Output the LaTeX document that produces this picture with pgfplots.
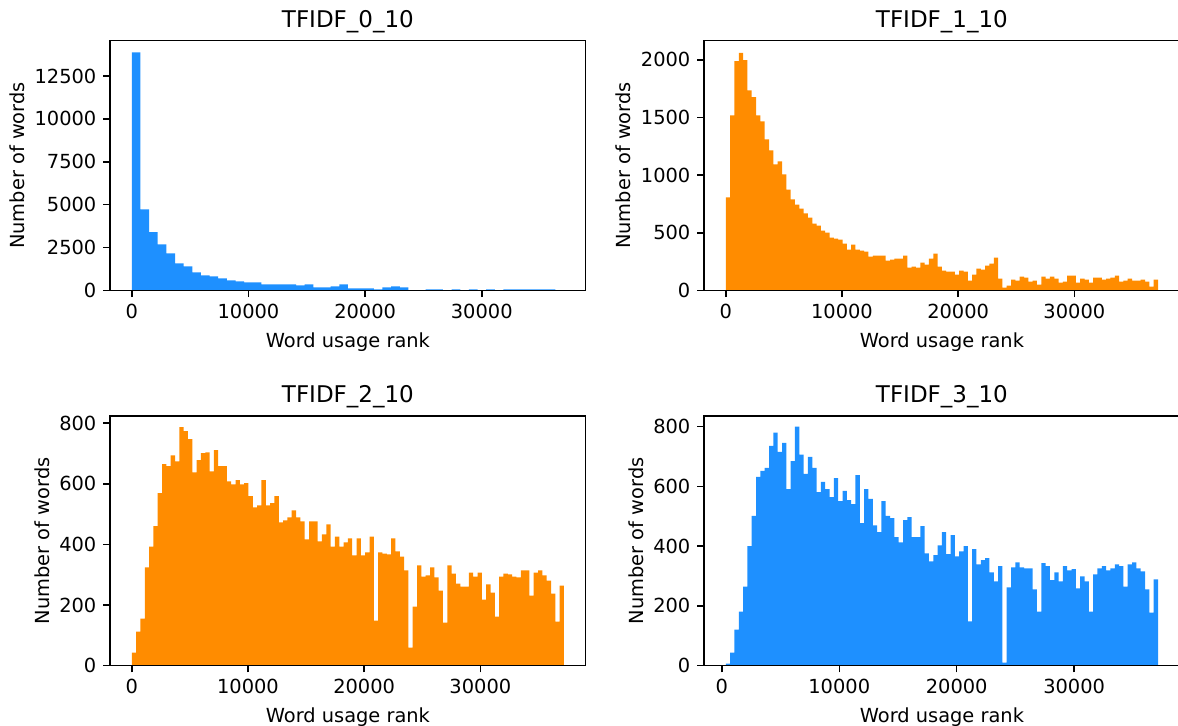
\documentclass[border=0pt]{standalone}
\usepackage{fontspec}
\setmainfont{DejaVu Sans}
\usepackage{pgfplots}
\pgfplotsset{compat=1.18}
\definecolor{dblue}{HTML}{1E90FF}
\definecolor{dorange}{HTML}{FF8C00}
\pgfplotsset{
  every axis title/.style={at={(0.5,1)}, anchor=base, yshift=6.6pt},
  hist/.style={
    scale only axis, width=237.7pt, height=124.9pt,
    anchor=south west,
    axis on top,
    scaled ticks=false,
    axis line style={line width=0.75pt, black},
    every tick/.style={line width=0.75pt, black},
    tick align=outside, tick pos=left,
    major tick length=3.4pt,
    ymin=0,
    xtick={0,10000,20000,30000}, xticklabels={0,10000,20000,30000},
    ticklabel style={font=\fontsize{9.7}{11}\selectfont},
    label style={font=\fontsize{9.7}{11}\selectfont},
    title style={font=\fontsize{11.5}{13}\selectfont},
    xlabel={Word usage rank}, ylabel={Number of words},
    ylabel style={yshift=-2pt},
  }
}
\begin{document}
\begin{tikzpicture}
\useasboundingbox (0,0) rectangle (589pt,363pt);
% top left
\begin{axis}[hist, at={(55.1pt,217.8pt)}, title={TFIDF\_0\_10},
  xmin=-1852, xmax=38902, ymax=14564,
  ytick={0,2500,5000,7500,10000,12500}, yticklabels={0,2500,5000,7500,10000,12500}]
\addplot[const plot, fill=dblue, draw=none] table {
x y
0 13870
741 4730
1482 3390
2223 2690
2964 2160
3705 1580
4446 1400
5187 1050
5928 880
6669 820
7410 700
8151 580
8892 530
9633 470
10374 470
11115 350
11856 350
12597 350
13338 350
14079 290
14820 350
15561 175
16302 175
17043 235
17784 350
18525 117
19266 117
20007 117
20748 60
21489 175
22230 235
22971 175
23712 10
24453 10
25194 60
25935 60
26676 10
27417 60
28158 10
28899 60
29640 10
30381 60
31122 10
31863 60
32604 60
33345 60
34086 60
34827 60
35568 60
36309 10
37050 10
} \closedcycle;
\end{axis}
% top right
\begin{axis}[hist, at={(352.1pt,217.8pt)}, title={TFIDF\_1\_10},
  xmin=-1860, xmax=39060, ymax=2167,
  ytick={0,500,1000,1500,2000}, yticklabels={0,500,1000,1500,2000}]
\addplot[const plot, fill=dorange, draw=none] table {
x y
0 806
372 1519
744 1989
1116 2061
1488 1997
1860 1736
2232 1676
2604 1519
2976 1467
3348 1310
3720 1215
4092 1093
4464 1119
4836 1006
5208 875
5580 789
5952 745
6324 710
6696 667
7068 632
7440 580
7812 562
8184 519
8556 502
8928 458
9300 449
9672 441
10044 406
10416 354
10788 397
11160 354
11532 345
11904 336
12276 293
12648 301
13020 301
13392 301
13764 258
14136 267
14508 275
14880 275
15252 301
15624 197
15996 206
16368 197
16740 241
17112 223
17484 275
17856 319
18228 206
18600 171
18972 162
19344 162
19716 136
20088 171
20460 162
20832 84
21204 136
21576 188
21948 180
22320 215
22692 232
23064 284
23436 101
23808 23
24180 41
24552 93
24924 84
25296 119
25668 110
26040 75
26412 84
26784 49
27156 119
27528 101
27900 119
28272 101
28644 67
29016 75
29388 128
29760 128
30132 67
30504 101
30876 93
31248 67
31620 110
31992 110
32364 93
32736 101
33108 110
33480 128
33852 75
34224 84
34596 101
34968 84
35340 84
35712 93
36084 75
36456 32
36828 93
37200 93
} \closedcycle;
\end{axis}
% bottom left
\begin{axis}[hist, at={(55.1pt,30.15pt)}, title={TFIDF\_2\_10},
  xmin=-1860, xmax=39060, ymax=824,
  ytick={0,200,400,600,800}, yticklabels={0,200,400,600,800}]
\addplot[const plot, fill=dorange, draw=none] table {
x y
0 43
372 112
744 155
1116 324
1488 393
1860 460
2232 569
2604 665
2976 658
3348 694
3720 674
4092 787
4464 774
4836 747
5208 638
5580 678
5952 701
6324 704
6696 641
7068 711
7440 658
7812 658
8184 608
8556 598
8928 612
9300 598
9672 602
10044 559
10416 522
10788 529
11160 612
11532 529
11904 536
12276 559
12648 473
13020 479
13392 489
13764 512
14136 489
14508 476
14880 417
15252 476
15624 476
15996 410
16368 433
16740 466
17112 393
17484 426
17856 393
18228 407
18600 420
18972 364
19344 420
19716 364
20088 374
20460 426
20832 149
21204 374
21576 370
21948 367
22320 420
22692 377
23064 360
23436 314
23808 60
24180 195
24552 331
24924 294
25296 298
25668 324
26040 291
26412 248
26784 142
27156 331
27528 304
27900 271
28272 261
28644 261
29016 307
29388 294
29760 307
30132 218
30504 268
30876 241
31248 162
31620 294
31992 304
32364 301
32736 294
33108 291
33480 314
33852 314
34224 231
34596 307
34968 314
35340 298
35712 281
36084 238
36456 145
36828 264
37200 264
} \closedcycle;
\end{axis}
% bottom right
\begin{axis}[hist, at={(352.1pt,30.15pt)}, title={TFIDF\_3\_10},
  xmin=-1500, xmax=38980, ymax=836,
  ytick={0,200,400,600,800}, yticklabels={0,200,400,600,800}]
\addplot[const plot, fill=dblue, draw=none] table {
x y
340 7
708 44
1076 121
1444 181
1812 265
2180 400
2548 501
2916 632
3284 652
3652 662
4020 736
4388 780
4756 716
5124 746
5492 591
5860 685
6228 800
6596 706
6964 642
7332 699
7700 662
8068 581
8436 615
8804 591
9172 564
9540 628
9908 551
10276 585
10644 554
11012 541
11380 638
11748 477
12116 591
12484 558
12852 470
13220 447
13588 551
13956 501
14324 494
14692 430
15060 413
15428 487
15796 497
16164 430
16532 430
16900 467
17268 376
17636 349
18004 370
18372 403
18740 447
19108 373
19476 437
19844 366
20212 383
20580 400
20948 148
21316 390
21684 339
22052 353
22420 360
22788 312
23156 282
23524 333
23892 10
24260 262
24628 329
24996 346
25364 329
25732 326
26100 326
26468 255
26836 181
27204 343
27572 333
27940 286
28308 312
28676 282
29044 333
29412 319
29780 323
30148 259
30516 299
30884 282
31252 181
31620 306
31988 326
32356 333
32724 319
33092 326
33460 339
33828 333
34196 265
34564 339
34932 346
35300 326
35668 316
36036 255
36404 178
36772 289
37140 289
} \closedcycle;
\end{axis}
\end{tikzpicture}
\end{document}
